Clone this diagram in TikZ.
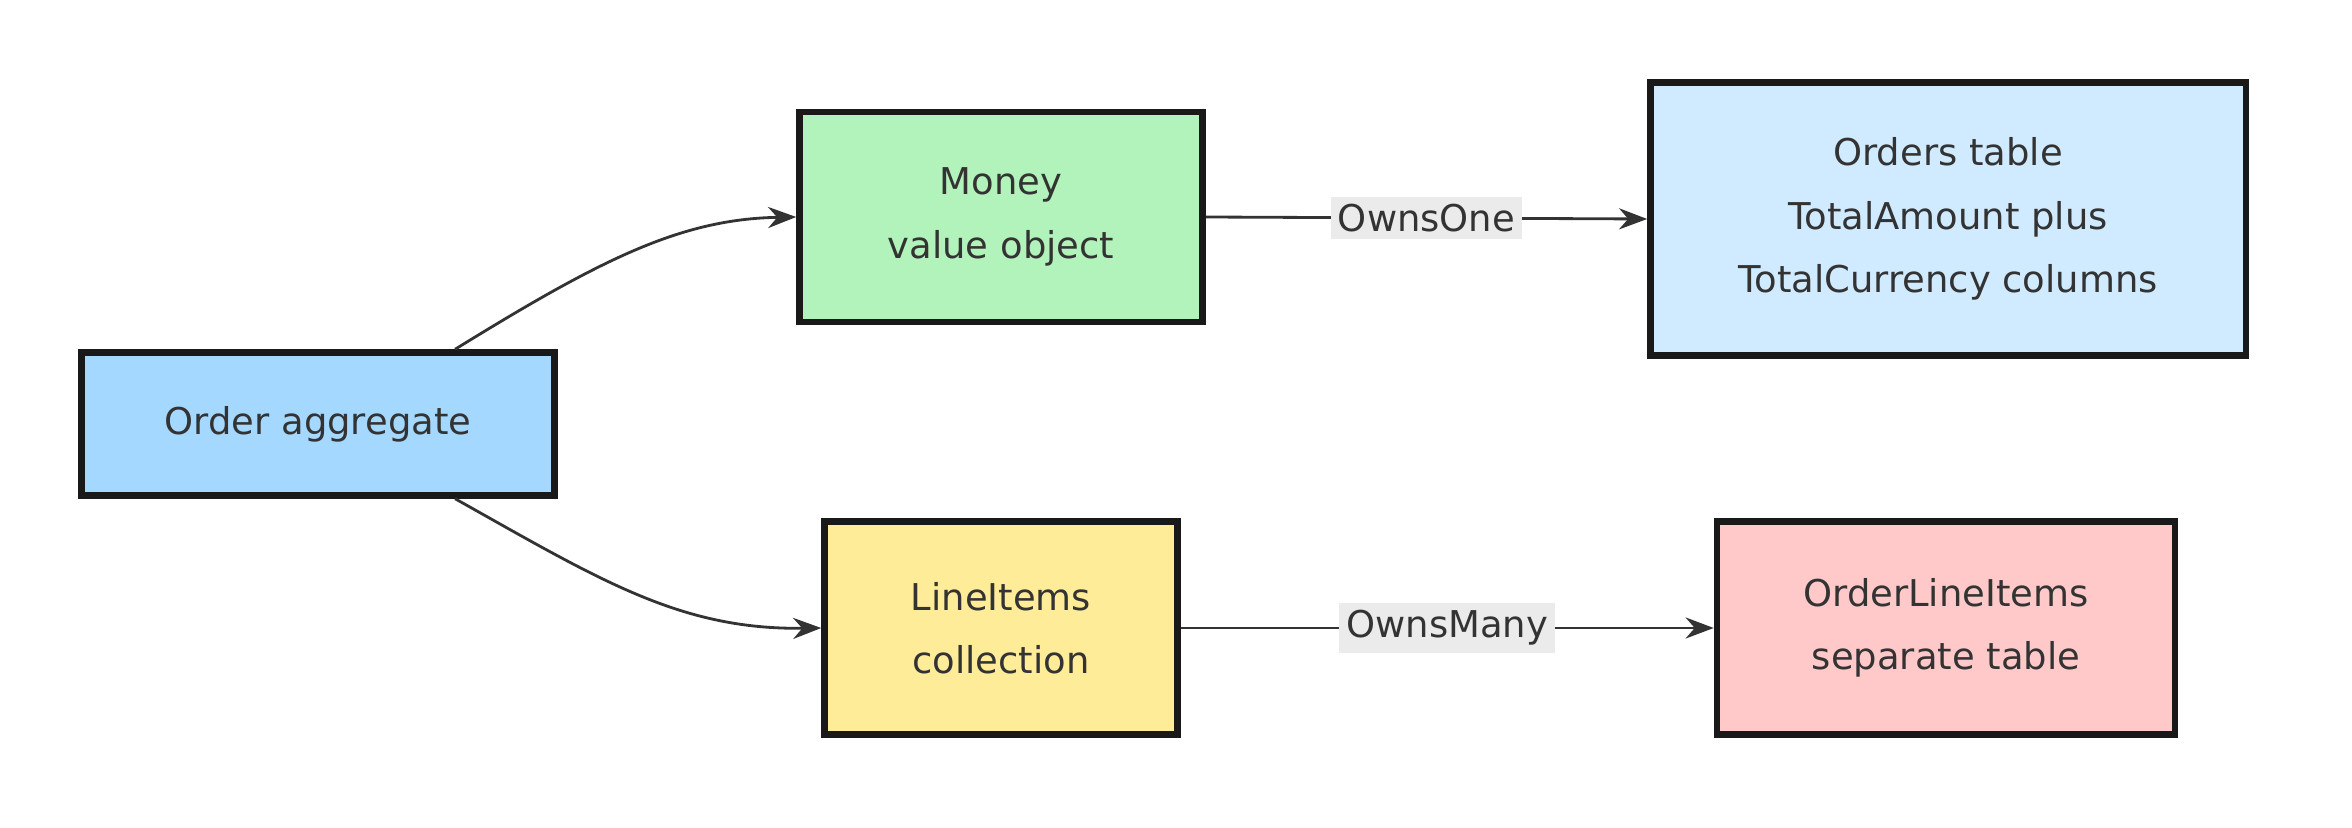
\documentclass[tikz,border=0pt]{standalone}
\usepackage{fontspec}
\setmainfont{DejaVu Sans}
\usetikzlibrary{arrows.meta, positioning}
\definecolor{aggblue}{HTML}{A5D8FF}
\definecolor{valgreen}{HTML}{B2F2BB}
\definecolor{tblblue}{HTML}{D0EBFF}
\definecolor{colyellow}{HTML}{FFEC99}
\definecolor{tblpink}{HTML}{FFC9C9}
\definecolor{inkgray}{HTML}{333333}
\tikzstyle{box} = [rectangle, draw=black!90, line width=1.8pt, text centered, align=center, font=\fontsize{10.5}{18}\selectfont, text=inkgray]
\tikzstyle{arrow} = [line width=0.8pt, draw=inkgray, -{Stealth[length=8pt, width=6pt]}]
\tikzstyle{rel} = [fill=black!8, text=inkgray, font=\fontsize{10.5}{12}\selectfont, inner sep=2pt]

\begin{document}
\begin{tikzpicture}[x=0.01cm, y=-0.01cm]
    \useasboundingbox (0,0) rectangle (2352,828);

    % Domain side
    \node[box, fill=aggblue, minimum width=4.73cm, minimum height=1.43cm] (order) at (318,424) {Order aggregate};
    \node[box, fill=valgreen, minimum width=4.03cm, minimum height=2.1cm] (money) at (1001,217) {Money\\value object};
    \node[box, fill=colyellow, minimum width=3.53cm, minimum height=2.13cm] (items) at (1001,628) {LineItems\\collection};

    % Storage side
    \node[box, fill=tblblue, minimum width=5.95cm, minimum height=2.73cm] (orders) at (1948,219) {Orders table\\TotalAmount plus\\TotalCurrency columns};
    \node[box, fill=tblpink, minimum width=4.58cm, minimum height=2.13cm] (lines) at (1946,628) {OrderLineItems\\separate table};

    % Relations
    \draw[arrow] ([xshift=1.37cm]order.north) .. controls (600,260) and (680,219) .. (money.west);
    \draw[arrow] ([xshift=1.37cm]order.south) .. controls (600,580) and (680,630) .. (items.west);
    \draw[arrow] (money.east) -- node[rel] {OwnsOne} (orders.west);
    \draw[arrow] (items.east) -- node[rel] {OwnsMany} (lines.west);
\end{tikzpicture}
\end{document}
